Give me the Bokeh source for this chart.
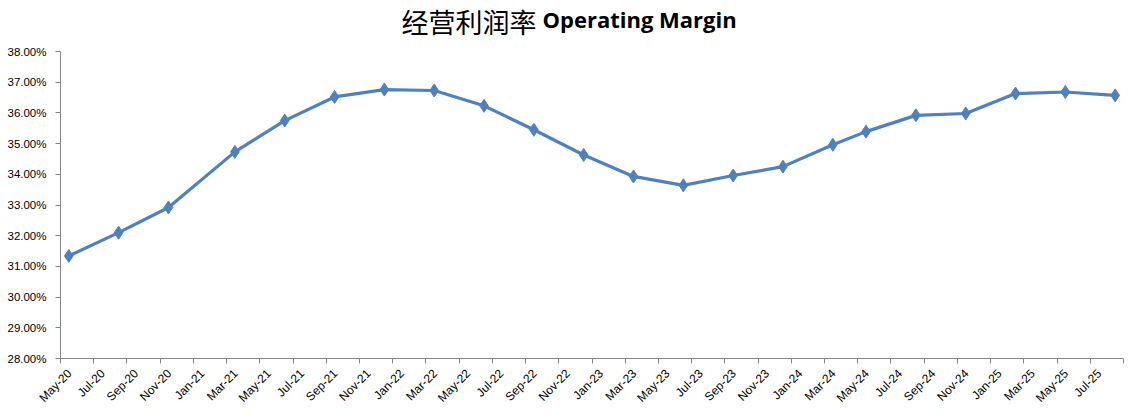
from bokeh.plotting import figure
from bokeh.models import FixedTicker, NumeralTickFormatter, Range1d, Label
from bokeh.embed import file_html
from bokeh.resources import INLINE
import math

# ---- data ----
periods = ["2020-05", "2020-08", "2020-11", "2021-03", "2021-06", "2021-09", "2021-12",
           "2022-03", "2022-06", "2022-09", "2022-12", "2023-03", "2023-06", "2023-09",
           "2023-12", "2024-03", "2024-05", "2024-08", "2024-11", "2025-02", "2025-05",
           "2025-08"]
margin = [0.3134, 0.3210, 0.3292, 0.3473, 0.3575, 0.3652, 0.3676,
          0.3673, 0.3623, 0.3545, 0.3463, 0.3393, 0.3364, 0.3396,
          0.3425, 0.3496, 0.3539, 0.3592, 0.3598, 0.3663, 0.3668,
          0.3657]
axis_start = "2020-05"
axis_end = "2025-09"
month_names = ["Jan", "Feb", "Mar", "Apr", "May", "Jun", "Jul", "Aug", "Sep", "Oct", "Nov", "Dec"]
y_min, y_max = 0.28, 0.38
y_ticks = [0.28, 0.29, 0.30, 0.31, 0.32, 0.33, 0.34, 0.35, 0.36, 0.37, 0.38]
title_cn = "经营利润率"
title_en = "Operating Margin"


def mindex(s):
    y, m = s.split("-")
    y0, m0 = axis_start.split("-")
    return (int(y) - int(y0)) * 12 + (int(m) - int(m0))


x = [mindex(s) + 0.5 for s in periods]
x_end = mindex(axis_end)

tick_pos = list(range(0, x_end + 1, 2))
LABEL_SHIFT = 0.55  # labels sit a little right of their tick, as in Excel
lab_pos, overrides = [], {}
y0, m0 = axis_start.split("-")
for t in tick_pos:
    if t >= x_end:
        continue
    tot = int(m0) - 1 + t
    yy = int(y0) + tot // 12
    mm = tot % 12
    pos = t + LABEL_SHIFT
    lab_pos.append(pos)
    overrides[pos] = f"{month_names[mm]}-{yy % 100:02d}"

# ---- layout (pixels) ----
W, H = 1129, 412
BORDER_L, BORDER_R, BORDER_B = 60, 6, 54
PLOT_TOP = 51                      # pixel row of the top of the value axis
FRAME_H = H - BORDER_B             # frame reaches the top edge; title sits inside it
AXIS_H = FRAME_H - PLOT_TOP
top_extra = (y_max - y_min) * PLOT_TOP / AXIS_H

p = figure(width=W, height=H, output_backend="svg", toolbar_location=None,
           x_range=Range1d(0, x_end), y_range=Range1d(y_min, y_max + top_extra),
           min_border_left=BORDER_L, min_border_right=BORDER_R,
           min_border_top=0, min_border_bottom=BORDER_B)
p.outline_line_color = None
p.xgrid.grid_line_color = None
p.ygrid.grid_line_color = None
p.background_fill_color = "white"
p.border_fill_color = "white"

p.line(x, margin, line_color="#4F81BD", line_width=3.2)
p.scatter(x, margin, marker="diamond", size=13, fill_color="#4F81BD", line_color="#4F81BD")

ax = p.xaxis[0]
ax.ticker = FixedTicker(ticks=lab_pos, minor_ticks=tick_pos)
ax.major_label_overrides = overrides
ax.major_label_orientation = math.pi / 4
ax.major_tick_line_color = None
ax.major_tick_in = 0
ax.major_tick_out = 5
ax.minor_tick_in = 0
ax.minor_tick_out = 5
ax.minor_tick_line_color = "#868686"
ax.axis_line_color = "#868686"
ax.major_label_text_font = "Liberation Sans"
ax.major_label_text_font_size = "12px"
ax.major_label_text_color = "#000000"
ax.major_label_standoff = 8

ay = p.yaxis[0]
ay.ticker = FixedTicker(ticks=y_ticks)
ay.bounds = (y_min, y_max)
ay.formatter = NumeralTickFormatter(format="0.00%")
ay.minor_tick_line_color = None
ay.major_tick_in = 0
ay.major_tick_out = 5
ay.axis_line_color = "#868686"
ay.major_tick_line_color = "#868686"
ay.major_label_text_font = "Liberation Sans"
ay.major_label_text_font_size = "11.5px"
ay.major_label_text_color = "#000000"
ay.major_label_standoff = 9

p.add_layout(Label(x=341, y=FRAME_H - 20.5, x_units="screen", y_units="screen",
                   text=title_cn, text_font="Noto Sans CJK SC",
                   text_font_size="27px", text_color="#000000", text_baseline="alphabetic"))
p.add_layout(Label(x=482, y=FRAME_H - 18.5, x_units="screen", y_units="screen",
                   text=title_en, text_font="Open Sans", text_font_style="bold",
                   text_font_size="22px", text_color="#000000", text_baseline="alphabetic"))

open("out.html", "w").write(file_html(p, INLINE))
